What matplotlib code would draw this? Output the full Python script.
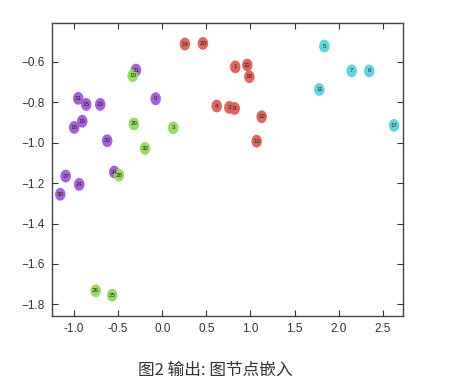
import matplotlib
matplotlib.use("Agg")
import matplotlib.pyplot as plt
import numpy as np
from matplotlib.path import Path

plt.rcParams['font.family'] = ['Liberation Sans', 'DejaVu Sans']

nodes = ['14', '20', '1', '22', '18', '4', '2', '8', '12', '13',
         '5', '7', '6', '11', '17',
         '31', '9', '21', '15', '23', '19', '16', '33', '27', '24', '30', '34',
         '10', '29', '3', '32', '28', '26', '25']
xs = [0.257, 0.461, 0.828, 0.964, 0.987, 0.617, 0.760, 0.821, 1.127, 1.070,
      1.837, 2.147, 2.347, 1.780, 2.627,
      -0.298, -0.075, -0.952, -0.862, -0.703, -0.907, -0.998, -0.624, -1.095, -0.941, -1.156, -0.544,
      -0.336, -0.321, 0.125, -0.196, -0.491, -0.755, -0.567]
ys = [-0.511, -0.508, -0.624, -0.615, -0.673, -0.818, -0.825, -0.830, -0.871, -0.992,
      -0.521, -0.644, -0.644, -0.736, -0.914,
      -0.640, -0.782, -0.780, -0.810, -0.810, -0.893, -0.924, -0.990, -1.165, -1.206, -1.255, -1.145,
      -0.668, -0.907, -0.926, -1.028, -1.160, -1.733, -1.755]
groups = [0] * 10 + [1] * 5 + [2] * 12 + [3] * 7
palette = ['#db5f57', '#57d3db', '#a157db', '#91db57']

xticks = [-1.0, -0.5, 0.0, 0.5, 1.0, 1.5, 2.0, 2.5]
yticks = [-1.8, -1.6, -1.4, -1.2, -1.0, -0.8, -0.6]

fig = plt.figure(figsize=(4.56, 3.84), dpi=100)
ax = fig.add_axes([0.114, 0.178, 0.769, 0.761])

t = np.linspace(0, 2 * np.pi, 60)
ell = Path(np.column_stack([0.82 * np.cos(t), np.sin(t)]), closed=True)

cols = [palette[g] for g in groups]
ax.scatter(xs, ys, s=85, c=cols, marker=ell, linewidths=0, alpha=0.95, zorder=2)
for n, x, y in zip(nodes, xs, ys):
    ax.text(x, y, n, fontsize=4.5, ha='center', va='center', color='#222222', zorder=3)

ax.set_xlim(-1.25, 2.725)
ax.set_ylim(-1.856, -0.409)
ax.set_xticks(xticks)
ax.set_yticks(yticks)
ax.set_xticklabels([f"{v:.1f}" for v in xticks])
ax.set_yticklabels([f"\u2212{abs(v):.1f}" for v in yticks])
ax.tick_params(direction='in', length=4, width=0.8, top=True, right=True,
               labelsize=8.5, colors='#333333', pad=5)
for sp in ax.spines.values():
    sp.set_color('#444444')
    sp.set_linewidth(1.0)

fig.text(0.472, 0.036, "图2 输出: 图节点嵌入", ha='center', va='center', fontsize=12,
         color='#333333', family=['Noto Sans CJK SC', 'DejaVu Sans'])

fig.savefig('out.png', dpi=100)
